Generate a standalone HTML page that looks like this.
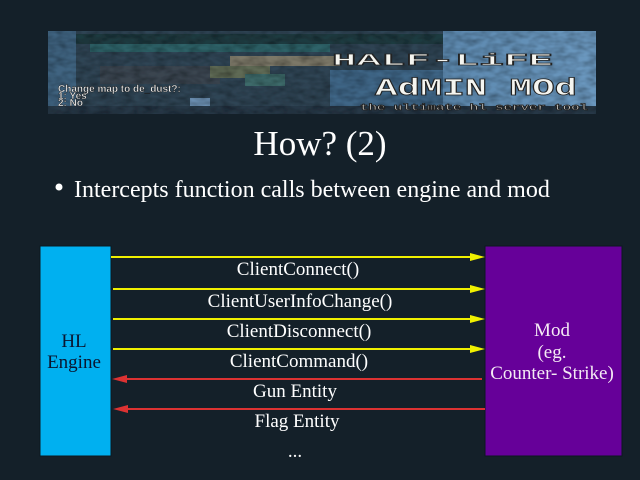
<!DOCTYPE html>
<html><head><meta charset="utf-8">
<style>
html,body{margin:0;padding:0;background:#142029;}
body{width:640px;height:480px;overflow:hidden;}
svg{display:block;}
</style></head>
<body>
<svg width="640" height="480" viewBox="0 0 640 480" xmlns="http://www.w3.org/2000/svg">
<defs>
<filter id="tex" x="0" y="0" width="100%" height="100%">
<feTurbulence type="fractalNoise" baseFrequency="0.09 0.18" numOctaves="2" seed="3" result="n"/>
<feColorMatrix in="n" type="matrix" values="0 0 0 0 0  0 0 0 0 0  0 0 0 0 0  0 0 0 0.9 -0.25" result="a"/>
<feComposite in="a" in2="SourceGraphic" operator="in" result="m"/>
<feBlend in="SourceGraphic" in2="m" mode="multiply"/>
</filter>
<linearGradient id="rightFade" x1="0" x2="1" y1="0" y2="0">
<stop offset="0" stop-color="#5c88ae"/>
<stop offset="1" stop-color="#6b98bf"/>
</linearGradient>
</defs>
<rect width="640" height="480" fill="#142029"/>

<!-- Banner -->
<g filter="url(#tex)">
<rect x="48" y="31" width="548" height="83" fill="#2f4454"/>
<rect x="48" y="31" width="28" height="83" fill="#3f6380"/>
<rect x="76" y="34" width="370" height="10" fill="#1f3a40"/>
<rect x="90" y="44" width="240" height="8" fill="#2e6268"/>
<rect x="230" y="56" width="110" height="10" fill="#7c7868"/>
<rect x="100" y="66" width="120" height="18" fill="#3a4550"/>
<rect x="210" y="66" width="60" height="12" fill="#5f6a55"/>
<rect x="245" y="74" width="40" height="12" fill="#3d6a6a"/>
<rect x="190" y="98" width="20" height="14" fill="#6a8eb0"/>
<rect x="330" y="70" width="115" height="40" fill="#3f6687"/>
<rect x="443" y="31" width="153" height="83" fill="url(#rightFade)"/>
<rect x="48" y="106" width="548" height="8" fill="#263746"/>
</g>
<g font-family="Liberation Sans, sans-serif" font-weight="bold" font-size="10" fill="#f4f4f4" stroke="#1a1a1a" stroke-width="0.4">
<text x="58" y="92">Change map to de_dust?:</text>
<text x="58" y="99">1: Yes</text>
<text x="58" y="106">2: No</text>
</g>
<g font-family="Liberation Mono, monospace" font-weight="bold" fill="#f5f5f0" stroke="#222" stroke-width="0.8">
<text x="332" y="65" font-size="17" textLength="221" lengthAdjust="spacingAndGlyphs">HALF-LiFE</text>
<text x="375" y="95" font-size="24" textLength="202" lengthAdjust="spacingAndGlyphs">AdMIN MOd</text>
<text x="360" y="110" font-size="9" textLength="228" lengthAdjust="spacingAndGlyphs">the ultimate hl server tool</text>
</g>

<!-- Title -->
<text x="320" y="155" text-anchor="middle" font-family="Liberation Serif, serif" font-size="35" fill="#ffffff">How? (2)</text>
<circle cx="59" cy="187" r="3.5" fill="#ffffff"/>
<text x="74" y="197" font-family="Liberation Serif, serif" font-size="24" fill="#ffffff">Intercepts function calls between engine and mod</text>

<!-- Boxes -->
<rect x="40" y="246" width="71" height="210" fill="#00b0f0" stroke="#0b1820" stroke-width="1"/>
<rect x="485" y="246" width="137" height="210" fill="#660099" stroke="#0b1820" stroke-width="1"/>
<g font-family="Liberation Serif, serif" font-size="19" text-anchor="middle">
<text x="74" y="347" fill="#0a1630">HL</text>
<text x="74" y="368" fill="#0a1630">Engine</text>
<text x="552" y="336" fill="#f4eaf4">Mod</text>
<text x="552" y="358" fill="#f4eaf4">(eg.</text>
<text x="552" y="379" fill="#f4eaf4">Counter- Strike)</text>
</g>

<!-- Yellow arrows -->
<g stroke="#f0f000" stroke-width="2">
<line x1="111" y1="257" x2="472" y2="257"/>
<line x1="113" y1="289" x2="472" y2="289"/>
<line x1="113" y1="319" x2="472" y2="319"/>
<line x1="113" y1="349" x2="472" y2="349"/>
</g>
<g fill="#f0f000">
<polygon points="470,253 485,257 470,261"/>
<polygon points="470,285 485,289 470,293"/>
<polygon points="470,315 485,319 470,323"/>
<polygon points="470,345 485,349 470,353"/>
</g>
<!-- Red arrows -->
<g stroke="#dc3232" stroke-width="2">
<line x1="125" y1="379" x2="482" y2="379"/>
<line x1="125" y1="409" x2="485" y2="409"/>
</g>
<g fill="#dc3232">
<polygon points="112,379 127,375 127,383"/>
<polygon points="113,409 128,405 128,413"/>
</g>

<!-- Labels -->
<g font-family="Liberation Serif, serif" font-size="19" fill="#ffffff" text-anchor="middle">
<text x="298" y="275">ClientConnect()</text>
<text x="300" y="307">ClientUserInfoChange()</text>
<text x="299" y="337">ClientDisconnect()</text>
<text x="299" y="367">ClientCommand()</text>
<text x="295" y="397">Gun Entity</text>
<text x="297" y="427">Flag Entity</text>
<text x="295" y="457">...</text>
</g>
</svg>
</body></html>
